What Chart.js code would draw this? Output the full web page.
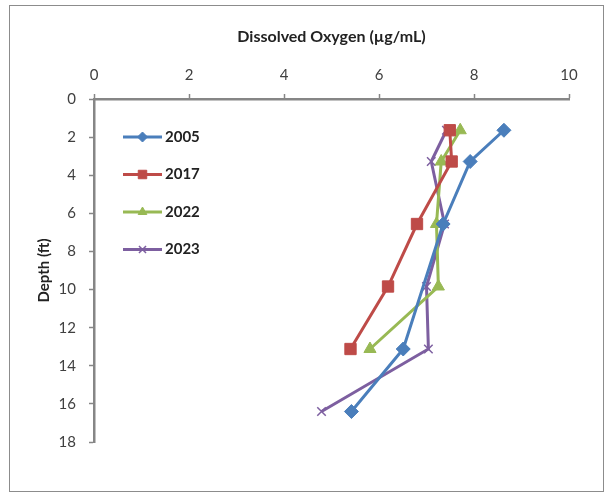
<!DOCTYPE html>
<html>
<head>
<meta charset="utf-8">
<script src="https://cdn.jsdelivr.net/npm/chart.js@4/dist/chart.umd.min.js"></script>
<style>
  body { margin: 0; background: #fff; }
  #wrap { width: 615px; height: 501px; position: relative; }
</style>
</head>
<body>
<div id="wrap"><canvas id="myChart"></canvas></div>
<script>
// depth in ft (0.5 m steps)
const depths = [1.64, 3.28, 6.56, 9.84, 13.12, 16.4]
const do2005 = [8.63, 7.92, 7.35, null, 6.51, 5.42]
const do2017 = [7.49, 7.53, 6.80, 6.19, 5.40, null]
const do2022 = [7.71, 7.31, 7.21, 7.25, 5.81, null]
const do2023 = [7.42, 7.10, 7.38, 7.00, 7.04, 4.79]
const years = ['2005', '2017', '2022', '2023']
const xTicks = [0, 2, 4, 6, 8, 10]
const yTicks = [0, 2, 4, 6, 8, 10, 12, 14, 16, 18]

const font = 'Lato, "Open Sans", sans-serif'
const axisColor = '#868686'

function points(values){
	return values.map((v, i) => ({x: v, y: depths[i]})).filter(p => p.x !== null)
}

const styles = [
	{color: '#4A7EBB', pointStyle: 'rectRot', radius: 7, legendRadius: 5, bw: 1},
	{color: '#BE4B48', pointStyle: 'rect', radius: 8, legendRadius: 6, bw: 1},
	{color: '#98B954', pointStyle: 'triangle', radius: 7, legendRadius: 5, bw: 1},
	{color: '#7D5FA0', pointStyle: 'crossRot', radius: 6, legendRadius: 5, bw: 1.5}
]

const series = [do2005, do2017, do2022, do2023]

const datasets = series.map((s, i) => ({
	label: years[i],
	data: points(s),
	showLine: true,
	borderColor: styles[i].color,
	backgroundColor: styles[i].color,
	borderWidth: 3,
	pointStyle: styles[i].pointStyle,
	pointRadius: styles[i].radius,
	pointBorderWidth: styles[i].bw,
	pointBorderColor: styles[i].color,
	pointBackgroundColor: styles[i].color
}))

const frame = {
	id: 'frame',
	beforeDraw(chart){
		const ctx = chart.ctx
		ctx.save()
		ctx.fillStyle = '#fff'
		ctx.fillRect(0, 0, chart.width, chart.height)
		ctx.strokeStyle = '#8c8c8c'
		ctx.lineWidth = 1
		ctx.strokeRect(9.5, 5.5, 594, 486)
		ctx.restore()
	}
}

const legendBox = {
	id: 'legendBox',
	afterDraw(chart){
		const ctx = chart.ctx
		const area = chart.chartArea
		ctx.save()
		chart.data.datasets.forEach((ds, i) => {
			const y = area.top + 38 + i * 37.5
			const x0 = area.left + 29
			const x1 = area.left + 68
			ctx.strokeStyle = ds.borderColor
			ctx.lineWidth = 3
			ctx.beginPath()
			ctx.moveTo(x0, y)
			ctx.lineTo(x1, y)
			ctx.stroke()
			ctx.fillStyle = ds.backgroundColor
			ctx.lineWidth = ds.pointBorderWidth
			Chart.helpers.drawPoint(ctx, {
				pointStyle: ds.pointStyle,
				radius: styles[i].legendRadius,
				rotation: 0,
				borderWidth: ds.pointBorderWidth
			}, (x0 + x1) / 2, y)
			ctx.fillStyle = '#222'
			ctx.font = 'bold 15px ' + font
			ctx.textBaseline = 'middle'
			ctx.fillText(ds.label, x1 + 3, y)
		})
		ctx.restore()
	}
}

const context = document.getElementById('myChart')
const myChart = new Chart(context, {
	type: 'scatter',
	data: {datasets: datasets},
	options: {
		responsive: true,
		maintainAspectRatio: false,
		animation: false,
		layout: {padding: {left: 30, top: 21, right: 46, bottom: 59}},
		plugins: {
			legend: {display: false},
			tooltip: {enabled: false}
		},
		scales: {
			x: {
				type: 'linear',
				position: 'top',
				min: 0,
				max: 10,
				afterBuildTicks: s => { s.ticks = xTicks.map(v => ({value: v})) },
				afterFit: s => { s.height = 78 },
				grid: {display: true, drawOnChartArea: false, tickLength: 5, tickColor: axisColor, tickWidth: 1.5},
				border: {display: true, color: axisColor, width: 2.5},
				ticks: {color: '#404040', padding: 10, font: {family: font, size: 15}},
				title: {display: true, text: 'Dissolved Oxygen (µg/mL)', color: '#222', padding: {top: 6, bottom: 0}, font: {family: font, size: 16, weight: 'bold'}}
			},
			y: {
				type: 'linear',
				reverse: true,
				min: 0,
				max: 18,
				afterBuildTicks: s => { s.ticks = yTicks.map(v => ({value: v})) },
				afterFit: s => { s.width = 64 },
				grid: {display: true, drawOnChartArea: false, tickLength: 5, tickColor: axisColor, tickWidth: 1.5},
				border: {display: true, color: axisColor, width: 2.5},
				ticks: {color: '#404040', padding: 13, font: {family: font, size: 15}},
				title: {display: true, text: 'Depth (ft)', color: '#222', padding: {top: 5, bottom: 0}, font: {family: font, size: 15, weight: 'bold'}}
			}
		}
	},
	plugins: [frame, legendBox]
})
</script>
</body>
</html>
